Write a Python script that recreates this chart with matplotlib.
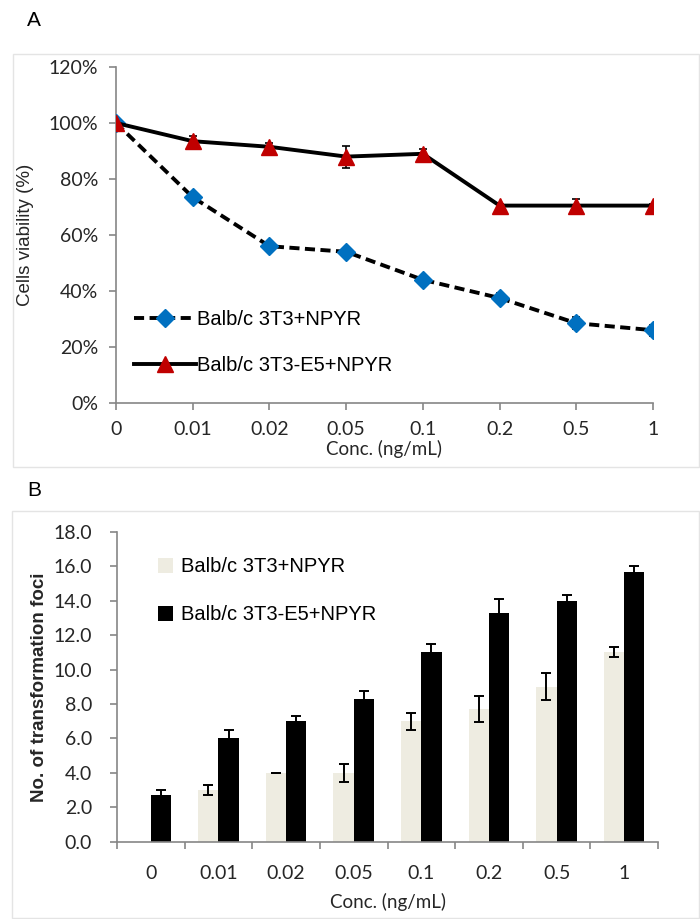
import matplotlib.pyplot as plt
from matplotlib.patches import Rectangle
import numpy as np

W, H = 700, 919

conc = ["0", "0.01", "0.02", "0.05", "0.1", "0.2", "0.5", "1"]

# panel A: cell viability (%)
via_3t3 = [100, 73.5, 56, 54, 44, 37.5, 28.5, 26]
via_3t3_err = [0.8, 1.5, 1.0, 1.0, 1.3, 1.8, 2.2, 2.0]
via_e5 = [100, 93.5, 91.5, 88, 89, 70.5, 70.5, 70.5]
via_e5_err = [0.8, 2.0, 1.5, 3.9, 1.7, 0.5, 2.2, 0.5]

# panel B: number of transformation foci
foci_3t3 = [0, 3.0, 4.0, 4.0, 7.0, 7.7, 9.0, 11.0]
foci_3t3_err = [0, 0.28, 0.0, 0.53, 0.5, 0.77, 0.78, 0.29]
foci_e5 = [2.7, 6.0, 7.0, 8.3, 11.0, 13.3, 14.0, 15.7]
foci_e5_err = [0.33, 0.48, 0.29, 0.48, 0.48, 0.8, 0.31, 0.33]

LAB_3T3 = "Balb/c 3T3+NPYR"
LAB_E5 = "Balb/c 3T3-E5+NPYR"

SPINE = "#868686"
BLUE = "#0070C0"
RED = "#C00000"
TAN = "#EEECE1"
FRAME = "#e4e4e4"
TXT = "#262626"
TICKFONT = "Lato"
ARIAL = "Liberation Sans"


def fx(px):
    return px / W


def fy(py):
    return 1 - py / H


fig = plt.figure(figsize=(W / 100, H / 100), dpi=100)

# light frames around the two panels
for x0, y0, x1, y1 in [(12.7, 54, 699, 467), (12, 510.7, 699, 918)]:
    fig.add_artist(Rectangle((fx(x0), fy(y1)), fx(x1) - fx(x0), fy(y0) - fy(y1),
                             transform=fig.transFigure, fill=False,
                             edgecolor=FRAME, linewidth=1.0))

fig.text(fx(27), fy(21), "A", fontsize=15, family=ARIAL, va="center", ha="left")
fig.text(fx(27), fy(490), "B", fontsize=15, family=ARIAL, va="center", ha="left")


def style_axes(ax):
    for s in ["top", "right"]:
        ax.spines[s].set_visible(False)
    for s in ["left", "bottom"]:
        ax.spines[s].set_color(SPINE)
        ax.spines[s].set_linewidth(1.2)
    ax.tick_params(colors=SPINE, width=1.2, labelcolor=TXT)
    for lab in ax.get_xticklabels() + ax.get_yticklabels():
        lab.set_family(TICKFONT)


# ---------------- panel A ----------------
axA = fig.add_axes([fx(116), fy(403), fx(653) - fx(116), fy(67) - fy(403)])
x = np.arange(len(conc))
axA.errorbar(x, via_3t3, yerr=via_3t3_err, fmt="none", ecolor="black",
             elinewidth=1.2, capsize=3, capthick=1.2, zorder=3)
axA.errorbar(x, via_e5, yerr=via_e5_err, fmt="none", ecolor="black",
             elinewidth=1.2, capsize=3, capthick=1.2, zorder=3)
l1, = axA.plot(x, via_3t3, color="black", lw=2.8, ls=(0, (2.6, 1.4)),
               marker="D", ms=9, mfc=BLUE, mec=BLUE, zorder=4, label=LAB_3T3)
l2, = axA.plot(x, via_e5, color="black", lw=2.8, ls="-",
               marker="^", ms=12, mfc=RED, mec=RED, zorder=5, label=LAB_E5)
axA.set_xlim(0, len(conc) - 1)
axA.set_ylim(0, 120)
axA.set_yticks(np.arange(0, 121, 20))
axA.set_yticklabels([f"{v}%" for v in range(0, 121, 20)])
axA.set_xticks(x)
axA.set_xticklabels(conc)
axA.tick_params(axis="both", direction="out", length=5, labelsize=14)
axA.tick_params(axis="y", pad=8)
axA.tick_params(axis="x", pad=8)
style_axes(axA)
axA.set_xlabel("Conc. (ng/mL)", family=TICKFONT, fontsize=13.5, color=TXT,
               labelpad=1)
axA.set_ylabel("Cells viability (%)", family=ARIAL, fontsize=13.5, color=TXT,
               labelpad=10)
axA.legend(handles=[l1, l2], loc="center left", bbox_to_anchor=(0.0335, 0.18),
           frameon=False, borderpad=0, borderaxespad=0, handlelength=3.1,
           handletextpad=0.05, labelspacing=1.35,
           prop={"family": ARIAL, "size": 14.5})

# ---------------- panel B ----------------
axB = fig.add_axes([fx(117), fy(841.7), fx(658) - fx(117), fy(532) - fy(841.7)])
bw = 0.3
axB.bar(x - bw / 2, foci_3t3, bw, color=TAN, edgecolor="none", label=LAB_3T3,
        zorder=2)
axB.bar(x + bw / 2, foci_e5, bw, color="black", edgecolor="none", label=LAB_E5,
        zorder=2)
m = np.array(foci_3t3) > 0
axB.errorbar((x - bw / 2)[m], np.array(foci_3t3)[m], yerr=np.array(foci_3t3_err)[m],
             fmt="none", ecolor="black", elinewidth=1.4, capsize=3.5,
             capthick=1.4, zorder=3)
axB.errorbar(x + bw / 2, foci_e5, yerr=foci_e5_err, fmt="none", ecolor="black",
             elinewidth=1.4, capsize=3.5, capthick=1.4, zorder=3)
axB.set_xlim(-0.5, len(conc) - 0.5)
axB.set_ylim(0, 18)
axB.set_yticks(np.arange(0, 18.1, 2))
axB.set_yticklabels([f"{v:.1f}" for v in np.arange(0, 18.1, 2)])
axB.set_xticks(x)
axB.set_xticklabels(conc)
axB.set_xticks(np.arange(-0.5, len(conc), 1), minor=True)
axB.tick_params(axis="x", which="major", length=0, pad=17, labelsize=14)
axB.tick_params(axis="x", which="minor", direction="out", length=5)
axB.tick_params(axis="y", direction="out", length=5, pad=13, labelsize=14)
style_axes(axB)
axB.tick_params(axis="x", which="minor", colors=SPINE, width=1.2)
axB.set_xlabel("Conc. (ng/mL)", family=TICKFONT, fontsize=13.5, color=TXT,
               labelpad=8)
axB.set_ylabel("No. of transformation foci", family=ARIAL, fontsize=13.5,
               fontweight="bold", color=TXT, labelpad=4)
axB.legend(loc="center left", bbox_to_anchor=(0.0758, 0.81), frameon=False,
           borderpad=0, borderaxespad=0, handlelength=0.75, handleheight=0.75,
           handletextpad=0.4, labelspacing=1.45,
           prop={"family": ARIAL, "size": 14.5})

fig.savefig("out.png", dpi=100, facecolor="white")
